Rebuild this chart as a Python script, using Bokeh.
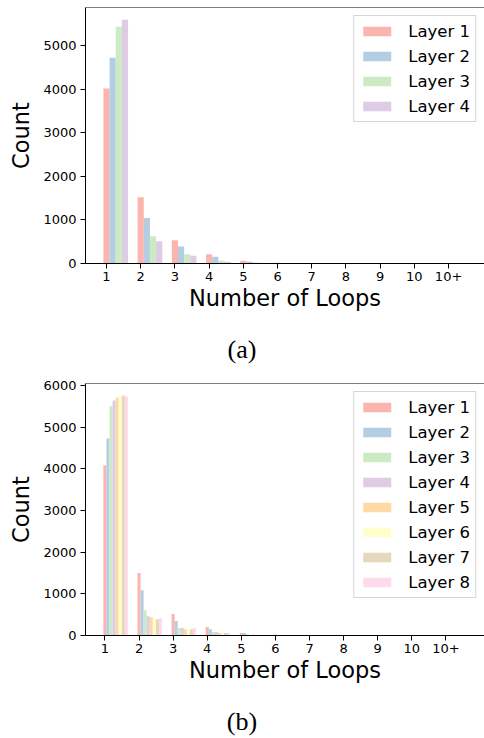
from bokeh.plotting import figure
from bokeh.models import FixedTicker, Range1d, Span, Legend, LegendItem, Div
from bokeh.layouts import column
from bokeh.embed import file_html
from bokeh.resources import INLINE

# ---------------- data ----------------
categories = ["1", "2", "3", "4", "5", "6", "7", "8", "9", "10", "10+"]

layers_a = ["Layer 1", "Layer 2", "Layer 3", "Layer 4"]
a_layer1 = [4010, 1520, 532, 211, 62, 15, 6, 3, 1, 1, 2]
a_layer2 = [4720, 1045, 391, 157, 40, 8, 3, 1, 0, 0, 1]
a_layer3 = [5430, 625, 211, 63, 25, 4, 1, 0, 0, 0, 0]
a_layer4 = [5590, 508, 180, 40, 12, 2, 1, 0, 0, 0, 0]

layers_b = ["Layer 1", "Layer 2", "Layer 3", "Layer 4",
            "Layer 5", "Layer 6", "Layer 7", "Layer 8"]
b_layer1 = [4085, 1500, 518, 206, 60, 22, 8, 3, 1, 1, 2]
b_layer2 = [4730, 1086, 350, 151, 55, 12, 4, 1, 0, 0, 1]
b_layer3 = [5505, 607, 182, 86, 30, 6, 2, 0, 0, 0, 0]
b_layer4 = [5643, 463, 180, 86, 15, 4, 1, 0, 0, 0, 0]
b_layer5 = [5715, 439, 151, 62, 25, 5, 1, 0, 0, 0, 0]
b_layer6 = [5755, 408, 151, 62, 10, 3, 1, 0, 0, 0, 0]
b_layer7 = [5763, 391, 151, 62, 8, 2, 1, 0, 0, 0, 0]
b_layer8 = [5739, 415, 180, 62, 10, 3, 1, 0, 0, 0, 0]

y_ticks_a = [0, 1000, 2000, 3000, 4000, 5000]
y_ticks_b = [0, 1000, 2000, 3000, 4000, 5000, 6000]

pastel1 = ["#fbb4ae", "#b3cde3", "#ccebc5", "#decbe4",
           "#fed9a6", "#ffffcc", "#e5d8bd", "#fddaec"]

FONT = "DejaVu Sans"
W = 484


def make_fig(names, series, bar_w, x_start, x_end, height, b_top, frame_h, yticks):
    ymax = max(max(s) for s in series) * 1.05
    p = figure(width=W, height=height, output_backend="svg", toolbar_location=None,
               x_range=Range1d(x_start, x_end), y_range=Range1d(0, ymax),
               min_border_left=85, min_border_right=0, min_border_top=b_top,
               min_border_bottom=height - b_top - frame_h)
    p.outline_line_color = None
    p.xgrid.visible = False
    p.ygrid.visible = False
    items = []
    idx = list(range(len(categories)))
    for i, (nm, vals) in enumerate(zip(names, series)):
        xs = [k + i * bar_w for k in idx]
        r = p.vbar(x=xs, top=vals, bottom=0, width=bar_w,
                   fill_color=pastel1[i], line_color=None)
        items.append(LegendItem(label=nm, renderers=[r]))
    p.add_layout(Span(location=ymax, dimension="width", line_color="black", line_width=1))

    p.xaxis.ticker = FixedTicker(ticks=idx)
    p.xaxis.major_label_overrides = {k: categories[k] for k in idx}
    p.yaxis.ticker = FixedTicker(ticks=yticks)
    for ax in (p.xaxis, p.yaxis):
        ax.axis_line_color = "black"
        ax.axis_line_width = 1
        ax.major_tick_line_color = "black"
        ax.major_tick_in = 0
        ax.major_tick_out = 5
        ax.minor_tick_line_color = None
        ax.major_label_text_font = FONT
        ax.major_label_text_font_size = "13px"
        ax.major_label_text_color = "black"
        ax.axis_label_text_font = FONT
        ax.axis_label_text_font_size = "22.5px"
        ax.axis_label_text_font_style = "normal"
        ax.axis_label_text_color = "black"
    p.xaxis.major_label_standoff = 3
    p.yaxis.major_label_standoff = 4
    p.xaxis.axis_label = "Number of Loops"
    p.yaxis.axis_label = "Count"
    p.xaxis.axis_label_standoff = 1
    p.yaxis.axis_label_standoff = 6

    leg = Legend(items=items, location="top_right", margin=8, padding=5, spacing=5,
                 glyph_width=35, glyph_height=12, label_height=20, label_standoff=14,
                 label_text_font=FONT, label_text_font_size="16.5px",
                 label_text_color="black",
                 border_line_color="#cccccc", border_line_alpha=0.8,
                 background_fill_alpha=0.8)
    p.add_layout(leg)
    return p


def caption(txt, h):
    return Div(text=('<div style="width:%dpx;text-align:center;font-family:\'Liberation Serif\';'
                     'font-size:26px;line-height:18px;padding-top:18px;color:black">%s</div>') % (W, txt),
               width=W, height=h, margin=0)


p1 = make_fig(layers_a, [a_layer1, a_layer2, a_layer3, a_layer4], 0.18,
              -0.614, 11.05, 323, 7, 256, y_ticks_a)
p2 = make_fig(layers_b, [b_layer1, b_layer2, b_layer3, b_layer4,
                         b_layer5, b_layer6, b_layer7, b_layer8], 0.09,
              -0.569, 11.13, 330, 18, 252, y_ticks_b)

layout = column(p1, caption("(a)", 42), p2, caption("(b)", 43), spacing=0)

open("out.html", "w").write(file_html(layout, INLINE))
